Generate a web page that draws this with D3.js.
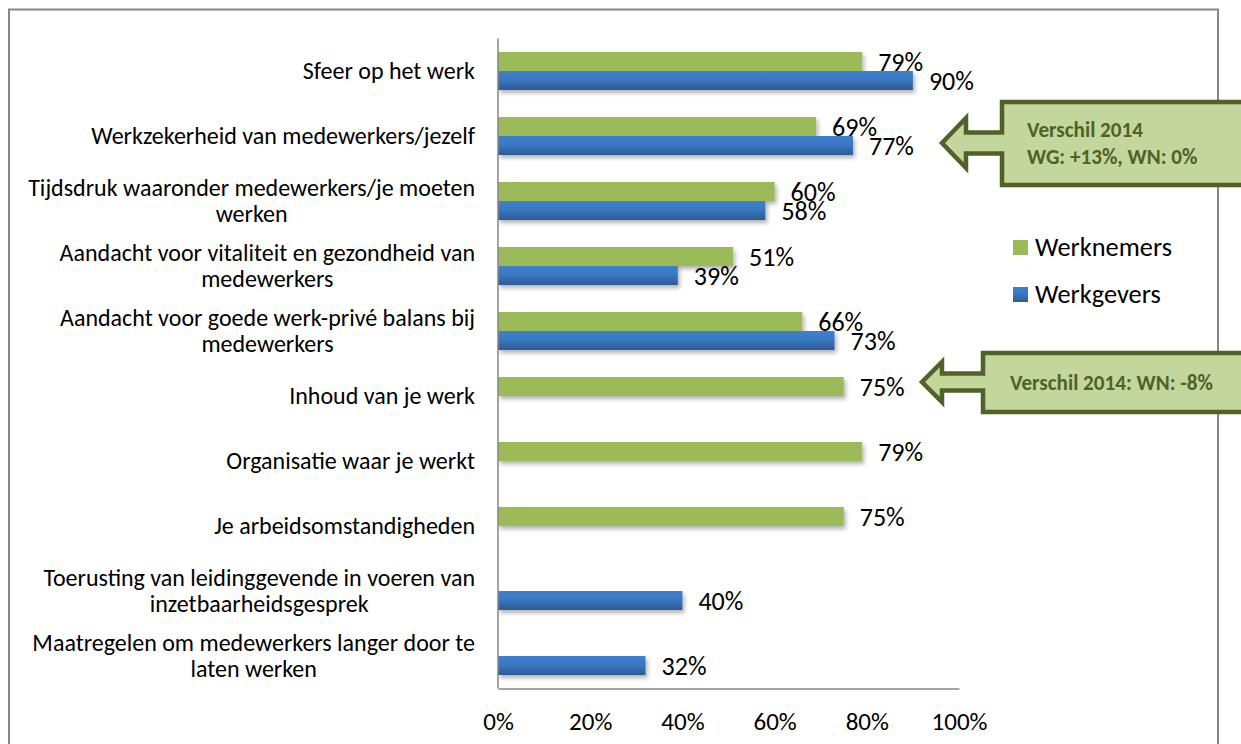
<!DOCTYPE html>
<html>
<head>
<meta charset="utf-8">
<script src="https://cdn.jsdelivr.net/npm/d3@7"></script>
<style>
  body { margin: 0; background: #fff; }
</style>
</head>
<body>
<svg width="1241" height="744"></svg>
<script>
// data
var categories = [
  ["Sfeer op het werk"],
  ["Werkzekerheid van medewerkers/jezelf"],
  ["Tijdsdruk waaronder medewerkers/je moeten", "werken"],
  ["Aandacht voor vitaliteit en gezondheid van", "medewerkers"],
  ["Aandacht voor goede werk-privé balans bij", "medewerkers"],
  ["Inhoud van je werk"],
  ["Organisatie waar je werkt"],
  ["Je arbeidsomstandigheden"],
  ["Toerusting van leidinggevende in voeren van", "inzetbaarheidsgesprek"],
  ["Maatregelen om medewerkers langer door te", "laten werken"]
];
var werknemers = [79, 69, 60, 51, 66, 75, 79, 75, null, null];
var werkgevers = [90, 77, 58, 39, 73, null, null, null, 40, 32];
var xTicks = [0, 20, 40, 60, 80, 100];
var seriesNames = ["Werknemers", "Werkgevers"];

var FONT = "Carlito, Lato, 'Open Sans', sans-serif";
var svg = d3.select("svg");

// size a font so a sample string gets the width seen in the picture
function fitSize(str, target, weight) {
  var t = svg.append("text")
    .style("font-family", FONT)
    .style("font-weight", weight || "normal")
    .style("font-size", "100px")
    .text(str);
  var w = t.node().getComputedTextLength();
  t.remove();
  return 100 * target / w;
}
var catSize = fitSize("Maatregelen om medewerkers langer door te", 443);
var valSize = fitSize("79%", 45);
var tickSize = fitSize("100%", 56);
var legSize = fitSize("Werknemers", 137);
var callSize = fitSize("Verschil 2014: WN: -8%", 203, "bold");

var x = d3.scaleLinear().domain([0, 100]).range([498, 959]);
var y = d3.scaleBand().domain(d3.range(categories.length)).range([38.5, 688.5]);
var barH = 19;

var defs = svg.append("defs");
var grad = defs.append("linearGradient").attr("id", "blueGrad")
  .attr("x1", 0).attr("y1", 0).attr("x2", 0).attr("y2", 1);
grad.append("stop").attr("offset", "0%").attr("stop-color", "#3f80cd");
grad.append("stop").attr("offset", "45%").attr("stop-color", "#3a78c3");
grad.append("stop").attr("offset", "100%").attr("stop-color", "#2c5b95");
defs.append("filter").attr("id", "shadow")
  .attr("x", "-5%").attr("y", "-30%").attr("width", "115%").attr("height", "180%")
  .append("feDropShadow")
  .attr("dx", 2).attr("dy", 3).attr("stdDeviation", 2)
  .attr("flood-color", "#000").attr("flood-opacity", 0.3);

// chart frame
svg.append("rect")
  .attr("x", 9).attr("y", 9.5)
  .attr("width", 1209).attr("height", 760)
  .attr("fill", "none")
  .attr("stroke", "#868686")
  .attr("stroke-width", 2);

// bars
var gBars = svg.append("g").attr("filter", "url(#shadow)");
gBars.selectAll(".wn")
  .data(werknemers.map(function(v, i) { return {v: v, i: i}; }).filter(function(d) { return d.v != null; }))
  .enter().append("rect")
  .attr("x", x(0))
  .attr("y", function(d) { return y(d.i) + y.bandwidth() / 2 - barH; })
  .attr("width", function(d) { return x(d.v) - x(0); })
  .attr("height", barH)
  .attr("fill", "#9bbb59");
gBars.selectAll(".wg")
  .data(werkgevers.map(function(v, i) { return {v: v, i: i}; }).filter(function(d) { return d.v != null; }))
  .enter().append("rect")
  .attr("x", x(0))
  .attr("y", function(d) { return y(d.i) + y.bandwidth() / 2; })
  .attr("width", function(d) { return x(d.v) - x(0); })
  .attr("height", barH)
  .attr("fill", "url(#blueGrad)");

// value labels
function valueLabels(data, offset) {
  svg.append("g").selectAll("text")
    .data(data.map(function(v, i) { return {v: v, i: i}; }).filter(function(d) { return d.v != null; }))
    .enter().append("text")
    .attr("x", function(d) { return x(d.v) + 16; })
    .attr("y", function(d) { return y(d.i) + y.bandwidth() / 2 + offset; })
    .attr("dy", "0.35em")
    .style("font-family", FONT)
    .style("font-size", valSize + "px")
    .attr("fill", "#000")
    .text(function(d) { return d.v + "%"; });
}
valueLabels(werknemers, -barH / 2);
valueLabels(werkgevers, barH / 2);

// axes
var axisColor = "#868686";
var gx = svg.append("g")
  .attr("transform", "translate(0," + 688.5 + ")")
  .call(d3.axisBottom(x).tickValues(xTicks).tickSize(0).tickPadding(24).tickFormat(function(d) { return d + "%"; }));
gx.select(".domain").attr("stroke", axisColor).attr("stroke-width", 1.5);
gx.selectAll("text")
  .style("font-family", FONT)
  .style("font-size", tickSize + "px")
  .attr("fill", "#000");

svg.append("line")
  .attr("x1", x(0)).attr("x2", x(0))
  .attr("y1", 38.5).attr("y2", 688.5)
  .attr("stroke", axisColor).attr("stroke-width", 1.5);

// category labels: block right-aligned to the axis, lines centred in the block
var lineH = 26;
var gCat = svg.append("g");
categories.forEach(function(lines, i) {
  var t = gCat.append("text")
    .style("font-family", FONT)
    .style("font-size", catSize + "px")
    .attr("fill", "#000")
    .attr("text-anchor", "middle");
  var spans = lines.map(function(s, j) {
    return t.append("tspan").text(s);
  });
  var maxW = d3.max(spans, function(s) { return s.node().getComputedTextLength(); });
  var cx = 475 - maxW / 2;
  var cy = y(i) + y.bandwidth() / 2;
  spans.forEach(function(s, j) {
    s.attr("x", cx)
      .attr("y", cy + (j - (lines.length - 1) / 2) * lineH)
      .attr("dy", "0.35em");
  });
});

// legend
var legFill = ["#9bbb59", "url(#blueGrad)"];
var gLeg = svg.append("g");
seriesNames.forEach(function(name, i) {
  var cy = 247 + i * 47;
  gLeg.append("rect")
    .attr("x", 1013).attr("y", cy - 7)
    .attr("width", 15).attr("height", 15)
    .attr("fill", legFill[i]);
  gLeg.append("text")
    .attr("x", 1035).attr("y", cy)
    .attr("dy", "0.35em")
    .style("font-family", FONT)
    .style("font-size", legSize + "px")
    .attr("fill", "#000")
    .text(name);
});

// callouts (left arrow callouts)
function callout(L, T, B, tipX, tipY, headX, headHalf, shaftHalf, lines, tx) {
  var R = 1300;
  var p = d3.path();
  p.moveTo(R, T);
  p.lineTo(L, T);
  p.lineTo(L, tipY - shaftHalf);
  p.lineTo(headX, tipY - shaftHalf);
  p.lineTo(headX, tipY - headHalf);
  p.lineTo(tipX, tipY);
  p.lineTo(headX, tipY + headHalf);
  p.lineTo(headX, tipY + shaftHalf);
  p.lineTo(L, tipY + shaftHalf);
  p.lineTo(L, B);
  p.lineTo(R, B);
  p.closePath();
  svg.append("path")
    .attr("d", p.toString())
    .attr("fill", "#c3d69b")
    .attr("stroke", "#4f6228")
    .attr("stroke-width", 4.5)
    .attr("stroke-linejoin", "miter");
  var mid = (T + B) / 2;
  lines.forEach(function(s, j) {
    svg.append("text")
      .attr("x", tx)
      .attr("y", mid + (j - (lines.length - 1) / 2) * 27)
      .attr("dy", "0.35em")
      .style("font-family", FONT)
      .style("font-weight", "bold")
      .style("font-size", callSize + "px")
      .attr("fill", "#4f6228")
      .text(s);
  });
}
callout(1002, 102, 185, 942, 143, 966, 25, 10.5, ["Verschil 2014", "WG: +13%, WN: 0%"], 1027);
callout(983, 353, 412, 922, 382, 942, 20, 8.5, ["Verschil 2014: WN: -8%"], 1010);
</script>
</body>
</html>
